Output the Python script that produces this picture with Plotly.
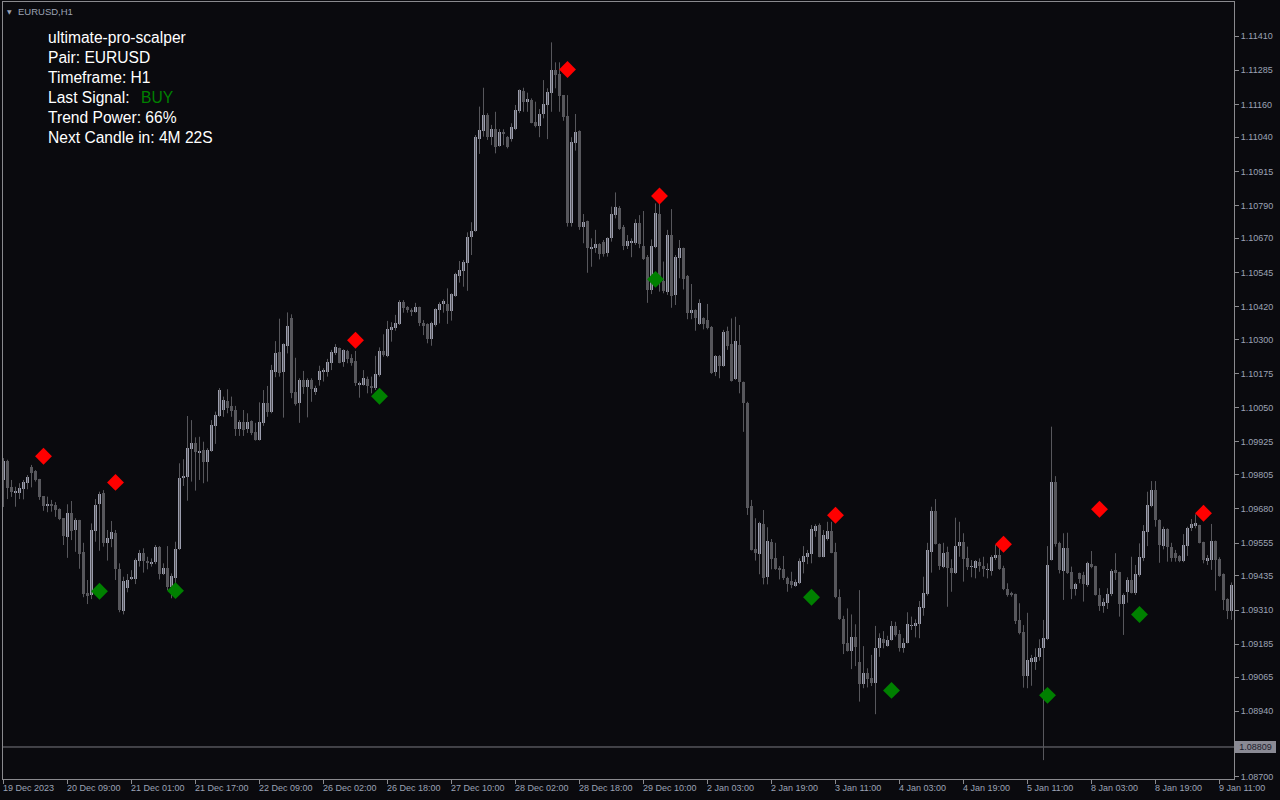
import plotly.graph_objects as go

# ---------------- data (EURUSD H1) ----------------
OPEN = [1.09786,1.09855,1.09759,1.09739,1.09739,1.09753,1.09776,1.09834,1.09820,1.09789,
1.09727,1.09692,1.09699,1.09695,1.09680,1.09646,1.09578,1.09664,1.09603,1.09639,
1.09522,1.09371,1.09365,1.09599,1.09698,1.09739,1.09556,1.09570,1.09593,1.09460,
1.09308,1.09391,1.09427,1.09425,1.09491,1.09518,1.09489,1.09482,1.09485,1.09542,
1.09442,1.09465,1.09395,1.09428,1.09532,1.09792,1.09798,1.09899,1.09922,1.09888,
1.09896,1.09851,1.09892,1.09984,1.10021,1.10042,1.10074,1.10057,1.10042,1.09972,
1.09998,1.09972,1.10002,1.09962,1.09932,1.09995,1.10069,1.10034,1.10182,1.10254,
1.10182,1.10277,1.10380,1.10108,1.10069,1.10152,1.10127,1.10152,1.10107,1.10152,
1.10181,1.10181,1.10215,1.10252,1.10268,1.10216,1.10258,1.10231,1.10221,1.10136,
1.10133,1.10155,1.10130,1.10121,1.10170,1.10258,1.10240,1.10335,1.10341,1.10357,
1.10436,1.10418,1.10408,1.10402,1.10418,1.10361,1.10357,1.10302,1.10353,1.10408,
1.10429,1.10430,1.10405,1.10459,1.10533,1.10551,1.10581,1.10676,1.10697,1.11033,
1.11064,1.11121,1.11042,1.11070,1.11009,1.11060,1.11042,1.11033,1.11070,1.11137,
1.11209,1.11170,1.11176,1.11095,1.11081,1.11124,1.11158,1.11203,1.11286,1.11271,
1.11194,1.11118,1.10725,1.11018,1.11063,1.10713,1.10733,1.10631,1.10636,1.10649,
1.10658,1.10617,1.10670,1.10755,1.10780,1.10713,1.10642,1.10654,1.10652,1.10727,
1.10642,1.10603,1.10481,1.10637,1.10759,1.10515,1.10475,1.10682,1.10463,1.10597,
1.10634,1.10532,1.10398,1.10408,1.10357,1.10378,1.10371,1.10347,1.10182,1.10240,
1.10204,1.10331,1.10283,1.10154,1.10280,1.10143,1.10066,1.09691,1.09533,1.09515,
1.09625,1.09432,1.09558,1.09499,1.09465,1.09459,1.09426,1.09416,1.09398,1.09408,
1.09485,1.09505,1.09515,1.09599,1.09621,1.09505,1.09570,1.09599,1.09521,1.09357,
1.09277,1.09188,1.09161,1.09213,1.09119,1.09039,1.09079,1.09060,1.09044,1.09170,
1.09203,1.09178,1.09200,1.09253,1.09222,1.09172,1.09191,1.09252,1.09252,1.09259,
1.09319,1.09369,1.09524,1.09672,1.09552,1.09466,1.09524,1.09465,1.09447,1.09544,
1.09560,1.09499,1.09468,1.09465,1.09485,1.09471,1.09457,1.09454,1.09501,1.09511,
1.09465,1.09387,1.09374,1.09369,1.09274,1.09231,1.09069,1.09121,1.09121,1.09137,
1.09172,1.09204,1.09493,1.09780,1.09556,1.09453,1.09538,1.09448,1.09387,1.09444,
1.09438,1.09402,1.09478,1.09471,1.09365,1.09326,1.09337,1.09369,1.09457,1.09448,
1.09331,1.09375,1.09420,1.09374,1.09438,1.09501,1.09597,1.09691,1.09749,1.09639,
1.09544,1.09607,1.09542,1.09518,1.09508,1.09489,1.09545,1.09609,1.09621,1.09621,
1.09558,1.09491,1.09493,1.09563,1.09496,1.09442,1.09350,1.09308]

HIGH = [1.09866,1.09860,1.09786,1.09761,1.09774,1.09786,1.09804,1.09841,1.09822,1.09790,
1.09727,1.09725,1.09713,1.09705,1.09682,1.09646,1.09697,1.09709,1.09646,1.09640,
1.09556,1.09420,1.09627,1.09716,1.09743,1.09749,1.09603,1.09636,1.09603,1.09481,
1.09432,1.09442,1.09456,1.09499,1.09530,1.09536,1.09505,1.09499,1.09548,1.09544,
1.09481,1.09544,1.09444,1.09560,1.09847,1.09862,1.10020,1.10005,1.09942,1.09944,
1.09926,1.09902,1.10005,1.10036,1.10122,1.10091,1.10118,1.10091,1.10057,1.10005,
1.10042,1.10030,1.10004,1.09995,1.10070,1.10115,1.10130,1.10207,1.10294,1.10376,
1.10286,1.10399,1.10392,1.10233,1.10158,1.10185,1.10158,1.10158,1.10131,1.10204,
1.10195,1.10229,1.10262,1.10283,1.10270,1.10264,1.10262,1.10246,1.10258,1.10146,
1.10188,1.10164,1.10164,1.10240,1.10271,1.10319,1.10368,1.10363,1.10390,1.10444,
1.10444,1.10422,1.10414,1.10434,1.10420,1.10371,1.10359,1.10365,1.10414,1.10436,
1.10447,1.10487,1.10469,1.10544,1.10587,1.10591,1.10692,1.10729,1.11048,1.11152,
1.11221,1.11128,1.11085,1.11133,1.11070,1.11069,1.11044,1.11091,1.11158,1.11215,
1.11221,1.11203,1.11182,1.11170,1.11143,1.11249,1.11219,1.11387,1.11314,1.11314,
1.11194,1.11194,1.11040,1.11125,1.11065,1.10759,1.10735,1.10670,1.10701,1.10652,
1.10664,1.10674,1.10786,1.10838,1.10788,1.10719,1.10682,1.10670,1.10740,1.10755,
1.10770,1.10609,1.10666,1.10798,1.10798,1.10585,1.10701,1.10777,1.10609,1.10664,
1.10636,1.10536,1.10503,1.10410,1.10447,1.10381,1.10430,1.10349,1.10243,1.10243,
1.10335,1.10347,1.10377,1.10383,1.10353,1.10146,1.10072,1.09713,1.09646,1.09633,
1.09676,1.09613,1.09570,1.09556,1.09471,1.09508,1.09432,1.09450,1.09422,1.09499,
1.09544,1.09530,1.09621,1.09624,1.09627,1.09603,1.09633,1.09633,1.09556,1.09386,
1.09289,1.09316,1.09294,1.09258,1.09383,1.09178,1.09097,1.09146,1.09252,1.09225,
1.09233,1.09216,1.09270,1.09267,1.09237,1.09207,1.09302,1.09286,1.09276,1.09343,
1.09432,1.09556,1.09688,1.09716,1.09554,1.09556,1.09542,1.09496,1.09648,1.09633,
1.09591,1.09542,1.09493,1.09493,1.09499,1.09505,1.09481,1.09511,1.09548,1.09542,
1.09472,1.09408,1.09377,1.09370,1.09335,1.09255,1.09300,1.09146,1.09170,1.09203,
1.09274,1.09544,1.09981,1.09800,1.09560,1.09591,1.09593,1.09469,1.09410,1.09447,
1.09450,1.09487,1.09526,1.09472,1.09390,1.09353,1.09390,1.09460,1.09518,1.09450,
1.09371,1.09430,1.09505,1.09475,1.09554,1.09621,1.09743,1.09782,1.09782,1.09642,
1.09615,1.09609,1.09556,1.09530,1.09511,1.09588,1.09615,1.09643,1.09660,1.09622,
1.09560,1.09511,1.09625,1.09564,1.09503,1.09444,1.09353,1.09411]

LOW = [1.09687,1.09716,1.09724,1.09688,1.09716,1.09715,1.09752,1.09759,1.09780,1.09713,
1.09673,1.09668,1.09670,1.09651,1.09639,1.09548,1.09501,1.09566,1.09523,1.09461,
1.09357,1.09332,1.09350,1.09560,1.09527,1.09542,1.09491,1.09540,1.09420,1.09302,
1.09294,1.09375,1.09420,1.09405,1.09469,1.09447,1.09459,1.09469,1.09478,1.09422,
1.09438,1.09383,1.09353,1.09395,1.09530,1.09764,1.09710,1.09780,1.09747,1.09786,
1.09774,1.09780,1.09889,1.09918,1.10017,1.10017,1.10030,1.10017,1.09947,1.09947,
1.09947,1.09958,1.09950,1.09930,1.09930,1.09984,1.10017,1.10030,1.10162,1.10164,
1.10014,1.10249,1.10085,1.10058,1.09995,1.10101,1.10015,1.10072,1.10097,1.10131,
1.10146,1.10164,1.10188,1.10243,1.10213,1.10200,1.10213,1.10204,1.10130,1.10087,
1.10131,1.10103,1.10103,1.10115,1.10164,1.10237,1.10235,1.10292,1.10332,1.10353,
1.10398,1.10398,1.10386,1.10398,1.10349,1.10316,1.10286,1.10277,1.10347,1.10359,
1.10398,1.10357,1.10369,1.10456,1.10508,1.10493,1.10478,1.10609,1.10694,1.10979,
1.11042,1.11030,1.11011,1.10981,1.11005,1.11011,1.10999,1.11024,1.11066,1.11128,
1.11133,1.11133,1.11091,1.11076,1.11040,1.11109,1.11033,1.11133,1.11219,1.11133,
1.11100,1.10713,1.10713,1.10991,1.10701,1.10652,1.10544,1.10566,1.10617,1.10593,
1.10603,1.10603,1.10658,1.10743,1.10701,1.10627,1.10631,1.10601,1.10646,1.10634,
1.10591,1.10434,1.10466,1.10634,1.10475,1.10469,1.10463,1.10416,1.10426,1.10524,
1.10483,1.10374,1.10374,1.10332,1.10353,1.10337,1.10337,1.10174,1.10166,1.10158,
1.10200,1.10262,1.10146,1.10152,1.10103,1.09962,1.09658,1.09528,1.09491,1.09441,
1.09404,1.09404,1.09459,1.09457,1.09422,1.09420,1.09377,1.09390,1.09395,1.09405,
1.09444,1.09478,1.09481,1.09578,1.09503,1.09503,1.09564,1.09518,1.09353,1.09274,
1.09149,1.09158,1.09094,1.09105,1.08975,1.09024,1.09027,1.09032,1.08929,1.09139,
1.09170,1.09176,1.09198,1.09213,1.09158,1.09154,1.09188,1.09237,1.09210,1.09207,
1.09289,1.09363,1.09447,1.09550,1.09457,1.09463,1.09322,1.09377,1.09442,1.09505,
1.09414,1.09457,1.09430,1.09426,1.09450,1.09432,1.09426,1.09436,1.09493,1.09457,
1.09383,1.09359,1.09359,1.09259,1.09221,1.09026,1.09024,1.09033,1.09091,1.09125,
1.08761,1.09200,1.09491,1.09542,1.09444,1.09347,1.09442,1.09350,1.09363,1.09408,
1.09341,1.09395,1.09463,1.09363,1.09307,1.09300,1.09314,1.09361,1.09420,1.09286,
1.09219,1.09337,1.09371,1.09365,1.09432,1.09489,1.09544,1.09686,1.09615,1.09483,
1.09532,1.09487,1.09487,1.09487,1.09485,1.09485,1.09508,1.09599,1.09609,1.09554,
1.09481,1.09475,1.09457,1.09381,1.09432,1.09310,1.09277,1.09274]

CLOSE = [1.09855,1.09757,1.09743,1.09747,1.09755,1.09780,1.09798,1.09813,1.09786,1.09725,
1.09692,1.09699,1.09691,1.09676,1.09643,1.09582,1.09664,1.09600,1.09639,1.09515,
1.09369,1.09363,1.09603,1.09694,1.09735,1.09554,1.09575,1.09596,1.09460,1.09310,
1.09416,1.09420,1.09432,1.09493,1.09518,1.09489,1.09483,1.09487,1.09542,1.09442,
1.09465,1.09393,1.09435,1.09533,1.09794,1.09801,1.09904,1.09922,1.09889,1.09892,
1.09851,1.09896,1.09987,1.10024,1.10115,1.10079,1.10049,1.10038,1.09972,1.09998,
1.09969,1.09998,1.09959,1.09932,1.09999,1.10069,1.10036,1.10188,1.10252,1.10178,
1.10283,1.10349,1.10105,1.10064,1.10152,1.10127,1.10152,1.10118,1.10121,1.10185,
1.10186,1.10216,1.10253,1.10274,1.10215,1.10262,1.10229,1.10215,1.10142,1.10142,
1.10158,1.10130,1.10121,1.10174,1.10258,1.10243,1.10338,1.10347,1.10359,1.10436,
1.10414,1.10408,1.10402,1.10418,1.10361,1.10350,1.10302,1.10359,1.10411,1.10430,
1.10442,1.10405,1.10465,1.10540,1.10554,1.10585,1.10676,1.10697,1.11042,1.11066,
1.11121,1.11042,1.11070,1.11005,1.11060,1.11052,1.11003,1.11076,1.11140,1.11213,
1.11170,1.11180,1.11093,1.11081,1.11125,1.11161,1.11206,1.11286,1.11268,1.11192,
1.11115,1.10725,1.11024,1.11060,1.10710,1.10731,1.10634,1.10639,1.10649,1.10613,
1.10613,1.10670,1.10759,1.10784,1.10703,1.10642,1.10661,1.10661,1.10727,1.10649,
1.10593,1.10481,1.10642,1.10762,1.10511,1.10478,1.10682,1.10460,1.10603,1.10634,
1.10520,1.10398,1.10408,1.10377,1.10432,1.10357,1.10343,1.10178,1.10240,1.10204,
1.10328,1.10276,1.10149,1.10294,1.10146,1.10069,1.09684,1.09530,1.09520,1.09627,
1.09428,1.09563,1.09497,1.09459,1.09457,1.09428,1.09405,1.09402,1.09414,1.09489,
1.09508,1.09520,1.09607,1.09619,1.09505,1.09585,1.09599,1.09520,1.09357,1.09276,
1.09186,1.09161,1.09213,1.09176,1.09038,1.09079,1.09058,1.09044,1.09170,1.09207,
1.09191,1.09200,1.09253,1.09219,1.09172,1.09191,1.09258,1.09255,1.09264,1.09322,
1.09374,1.09530,1.09672,1.09552,1.09471,1.09520,1.09465,1.09447,1.09545,1.09560,
1.09497,1.09466,1.09469,1.09489,1.09471,1.09460,1.09460,1.09505,1.09511,1.09460,
1.09387,1.09365,1.09365,1.09270,1.09225,1.09070,1.09127,1.09134,1.09139,1.09170,
1.09207,1.09475,1.09780,1.09552,1.09457,1.09538,1.09447,1.09387,1.09405,1.09422,
1.09405,1.09481,1.09469,1.09365,1.09326,1.09341,1.09369,1.09453,1.09447,1.09332,
1.09365,1.09420,1.09374,1.09442,1.09505,1.09599,1.09694,1.09749,1.09639,1.09548,
1.09607,1.09542,1.09501,1.09501,1.09491,1.09548,1.09609,1.09624,1.09627,1.09556,
1.09493,1.09501,1.09563,1.09493,1.09436,1.09347,1.09308,1.09402]

X_TICK_LABELS = ["19 Dec 2023", "20 Dec 09:00", "21 Dec 01:00", "21 Dec 17:00", "22 Dec 09:00",
                 "26 Dec 02:00", "26 Dec 18:00", "27 Dec 10:00", "28 Dec 02:00", "28 Dec 18:00",
                 "29 Dec 10:00", "2 Jan 03:00", "2 Jan 19:00", "3 Jan 11:00", "4 Jan 03:00",
                 "4 Jan 19:00", "5 Jan 11:00", "8 Jan 03:00", "8 Jan 19:00", "9 Jan 11:00"]
BARS_PER_LABEL = 16

Y_TICKS = [1.08700, 1.08940, 1.09065, 1.09185, 1.09310, 1.09435, 1.09555, 1.09680, 1.09805,
           1.09925, 1.10050, 1.10175, 1.10300, 1.10420, 1.10545, 1.10670, 1.10790, 1.10915,
           1.11040, 1.11160, 1.11285, 1.11410]
CURRENT_PRICE = 1.08809

SELL_BARS = [10, 28, 88, 141, 164, 208, 250, 274, 300]
SELL_PRICES = [1.09873, 1.09777, 1.10297, 1.11288, 1.10825, 1.09657, 1.09551, 1.09679, 1.09664]
BUY_BARS = [24, 43, 94, 163, 202, 222, 261, 284]
BUY_PRICES = [1.09379, 1.09381, 1.10092, 1.10520, 1.09357, 1.09016, 1.08998, 1.09294]

INFO_LINES = ["ultimate-pro-scalper", "Pair: EURUSD", "Timeframe: H1", "Last Signal:",
              "Trend Power: 66%", "Next Candle in: 4M 22S"]
LAST_SIGNAL = "BUY"

# ---------------- styling ----------------
BG = "#0a0a0e"
BULL = "#9b9dad"
BEAR = "#57575c"
WICK = "#57575c"
FRAME = "#8a8a8e"
AXIS_TXT = "#9ca3b5"
FONT = "Liberation Sans"

idx = list(range(len(OPEN)))

# wicks
wx, wy = [], []
for i, (h, l) in enumerate(zip(HIGH, LOW)):
    wx += [i, i, None]
    wy += [l, h, None]

# bodies
base = [min(o, c) for o, c in zip(OPEN, CLOSE)]
height = [max(abs(c - o), 0.00002) for o, c in zip(OPEN, CLOSE)]
colors = [BULL if c >= o else BEAR for o, c in zip(OPEN, CLOSE)]

fig = go.Figure()
fig.add_trace(go.Scatter(x=wx, y=wy, mode="lines", line=dict(color=WICK, width=1),
                         hoverinfo="skip", showlegend=False))
fig.add_trace(go.Bar(x=idx, y=height, base=base, width=0.75,
                     marker=dict(color=colors, line=dict(width=0)),
                     showlegend=False, hoverinfo="skip"))
fig.add_trace(go.Scatter(x=SELL_BARS, y=SELL_PRICES, mode="markers",
                         marker=dict(symbol="diamond", size=13, color="#ff0000", line=dict(width=0)),
                         showlegend=False))
fig.add_trace(go.Scatter(x=BUY_BARS, y=BUY_PRICES, mode="markers",
                         marker=dict(symbol="diamond", size=13, color="#008000", line=dict(width=0)),
                         showlegend=False))

n = len(OPEN)
fig.update_xaxes(range=[-0.125, n - 1 + 0.625], showgrid=False, zeroline=False,
                 showline=True, linecolor=FRAME, linewidth=1, mirror=True,
                 tickvals=list(range(0, n, BARS_PER_LABEL)), showticklabels=False,
                 ticks="outside", ticklen=4, tickcolor=FRAME, tickwidth=1)
fig.update_yaxes(range=[1.086919, 1.115347], side="right", showgrid=False, zeroline=False,
                 showline=True, linecolor=FRAME, linewidth=1, mirror=True,
                 tickvals=Y_TICKS, ticktext=[f"{v:.5f}" for v in Y_TICKS],
                 ticks="outside", ticklen=4, tickcolor=FRAME, tickwidth=1,
                 tickfont=dict(family=FONT, size=9, color=AXIS_TXT))

ann = []
for k, lab in enumerate(X_TICK_LABELS):
    ann.append(dict(x=k * BARS_PER_LABEL, xref="x", y=0, yref="paper", text=lab,
                    showarrow=False, xanchor="left", yanchor="middle", xshift=-3, yshift=-9,
                    font=dict(family=FONT, size=9, color=AXIS_TXT)))
# header
ann.append(dict(x=0, xref="paper", y=1, yref="paper", text="▼", showarrow=False,
                xanchor="left", yanchor="middle", xshift=2, yshift=-9,
                font=dict(family="DejaVu Sans", size=6, color=AXIS_TXT)))
ann.append(dict(x=0, xref="paper", y=1, yref="paper", text="EURUSD,H1", showarrow=False,
                xanchor="left", yanchor="middle", xshift=13, yshift=-9,
                font=dict(family=FONT, size=9.5, color=AXIS_TXT)))
# info block
for k, line in enumerate(INFO_LINES):
    ann.append(dict(x=0, xref="paper", y=1, yref="paper", text=line, showarrow=False,
                    xanchor="left", yanchor="middle", xshift=43, yshift=-(35 + 20 * k),
                    font=dict(family=FONT, size=15.6, color="#ffffff")))
ann.append(dict(x=0, xref="paper", y=1, yref="paper", text=LAST_SIGNAL, showarrow=False,
                xanchor="left", yanchor="middle", xshift=136, yshift=-(35 + 20 * 3),
                font=dict(family=FONT, size=15.6, color="#008000")))
# current price label
ann.append(dict(x=1, xref="paper", y=CURRENT_PRICE, yref="y", text=f"{CURRENT_PRICE:.5f}",
                showarrow=False, xanchor="left", yanchor="middle", xshift=1,
                bgcolor="#8a8a94", borderpad=1, borderwidth=0, width=39, height=10,
                font=dict(family=FONT, size=9, color="#1a1c2c")))

fig.update_layout(
    width=1280, height=800, autosize=False,
    margin=dict(l=3, r=46, t=2, b=21, pad=0),
    paper_bgcolor=BG, plot_bgcolor=BG,
    bargap=0, barmode="overlay",
    annotations=ann,
    shapes=[dict(type="line", xref="paper", x0=0, x1=1, yref="y", y0=CURRENT_PRICE, y1=CURRENT_PRICE,
                 line=dict(color="#7a7a80", width=1), layer="below")],
    font=dict(family=FONT),
    hovermode=False,
)

fig.write_html("out.html", config={"displayModeBar": False},
               post_script="document.body.style.margin='0';document.body.style.overflow='hidden';")
